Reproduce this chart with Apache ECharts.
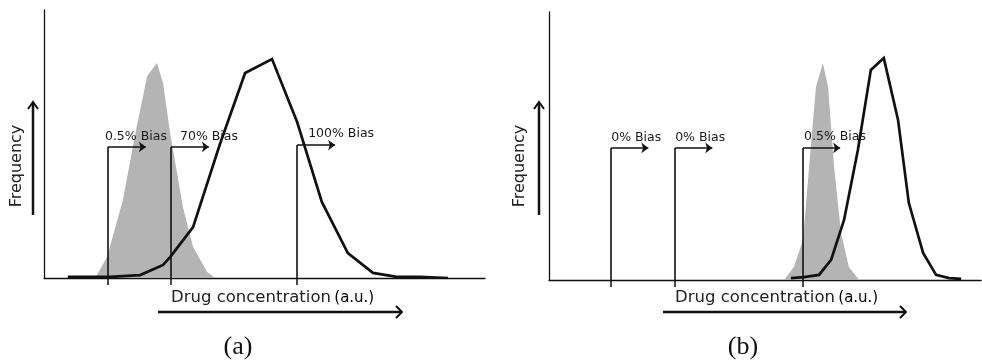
<!DOCTYPE html>
<html>
<head>
<meta charset="utf-8">
<script src="https://cdn.jsdelivr.net/npm/echarts@6/dist/echarts.min.js"></script>
<style>
  html, body { margin: 0; padding: 0; background: #fff; }
  #chart { width: 982px; height: 363px; }
</style>
</head>
<body>
<div id="chart"></div>
<script>
// ---- Panel (a): wide drug distribution vs. narrow reference distribution ----
const aDrugX = [5.4, 9.8, 15.0, 21.8, 27.0, 28.6, 33.8, 39.9, 45.6, 51.7, 57.4, 63.0, 68.9, 74.6, 80.0, 85.3, 91.6];
const aDrugY = [0.4, 0.4, 0.4, 1.1, 4.9, 7.8, 19.0, 50.0, 76.5, 81.7, 58.2, 28.4, 9.3, 1.9, 0.4, 0.4, 0.0];
const aRefX  = [11.6, 14.3, 17.9, 20.6, 23.4, 25.6, 27.0, 28.6, 31.5, 33.8, 37.0, 38.8];
const aRefY  = [0.0, 7.8, 29.1, 53.0, 75.4, 80.2, 72.8, 54.1, 26.5, 11.6, 2.2, 0.0];
const aBiasX      = [14.5, 28.8, 57.4];
const aBiasLevel  = [48.9, 48.9, 49.6];
const aBiasLabels = ['0.5% Bias', '70% Bias', '100% Bias'];

// ---- Panel (b): drug distribution shifted to high concentrations ----
const bDrugX = [56.0, 59.0, 62.5, 65.3, 68.3, 71.5, 74.5, 77.5, 80.8, 83.3, 86.6, 89.6, 92.6, 95.4];
const bDrugY = [0.7, 1.1, 1.9, 7.5, 22.4, 48.5, 78.4, 82.8, 59.7, 28.7, 10.1, 1.9, 0.7, 0.4];
const bRefX  = [54.4, 56.7, 58.8, 60.2, 61.8, 63.4, 64.6, 66.0, 67.6, 69.4, 71.8];
const bRefY  = [0.0, 4.9, 14.9, 42.2, 72.0, 81.0, 72.0, 42.2, 17.5, 4.9, 0.0];
const bBiasX      = [14.4, 29.2, 58.8];
const bBiasLevel  = [49.3, 49.3, 49.3];
const bBiasLabels = ['0% Bias', '0% Bias', '0.5% Bias'];

// length of each threshold arrow, in concentration units
const arrowLen = 8.6;

// ---- styling ----
const INK = '#111';
const GREY = '#b4b4b4';
const SANS = 'DejaVu Sans';
const labelShiftA = [[-3, 4], [9, 4], [11, 5]];
const labelShiftB = [[0, 4], [0, 4], [1, 5]];

const pairs = (xs, ys) => xs.map((x, i) => [x, ys[i]]);

function biasLines(xs, levels, labels, shifts) {
  const out = [];
  xs.forEach((x, i) => {
    // vertical threshold stem
    out.push([{ coord: [x, 0] }, { coord: [x, levels[i]] }]);
    // arrow pointing towards higher concentration, with its label
    out.push([
      { coord: [x, levels[i]], symbol: 'none',
        label: { show: true, formatter: labels[i], distance: shifts[i] } },
      { coord: [x + arrowLen, levels[i]], symbol: 'arrow' }
    ]);
  });
  return out;
}

function axesFor(idx, ticks) {
  return {
    x: {
      type: 'value', gridIndex: idx, min: 0, max: 100,
      axisLine: { show: true, onZero: false, lineStyle: { color: INK, width: 1.3 } },
      axisTick: { show: true, customValues: ticks, length: 7, inside: false,
                  lineStyle: { color: INK, width: 1.5 } },
      axisLabel: { show: false },
      splitLine: { show: false }
    },
    y: {
      type: 'value', gridIndex: idx, min: 0, max: 100,
      axisLine: { show: true, onZero: false, lineStyle: { color: INK, width: 1.3 } },
      axisTick: { show: false },
      axisLabel: { show: false },
      splitLine: { show: false }
    }
  };
}

function panelSeries(idx, refX, refY, drugX, drugY, biasX, levels, labels, shifts) {
  return [
    {
      type: 'line', xAxisIndex: idx, yAxisIndex: idx,
      data: pairs(refX, refY), symbol: 'none',
      lineStyle: { width: 0, color: GREY },
      areaStyle: { color: GREY, opacity: 1 },
      itemStyle: { color: GREY }
    },
    {
      type: 'line', xAxisIndex: idx, yAxisIndex: idx,
      data: pairs(drugX, drugY), symbol: 'none',
      lineStyle: { width: 2.7, color: INK, join: 'miter' },
      itemStyle: { color: INK }
    },
    {
      type: 'line', xAxisIndex: idx, yAxisIndex: idx, data: [],
      markLine: {
        silent: true, animation: false,
        symbol: ['none', 'none'], symbolSize: [8, 7],
        lineStyle: { color: INK, width: 1.6, type: 'solid' },
        label: { show: false, position: 'insideStartTop', color: '#1a1a1a',
                 fontSize: 12.5, fontFamily: SANS },
        emphasis: { disabled: true },
        data: biasLines(biasX, levels, labels, shifts)
      }
    }
  ];
}

const axA = axesFor(0, aBiasX);
const axB = axesFor(1, bBiasX);

function decorations(freqX, arrowX, drugLeft, drugArrow, caption, captionX) {
  return [
    { type: 'text', x: freqX, y: 166, rotation: Math.PI / 2,
      style: { text: 'Frequency', fill: '#222', font: '16px "DejaVu Sans"',
               align: 'center', verticalAlign: 'middle' } },
    { type: 'line', shape: { x1: arrowX, y1: 215, x2: arrowX, y2: 103 },
      style: { stroke: INK, lineWidth: 2.5 } },
    { type: 'polyline', shape: { points: [[arrowX - 5, 109], [arrowX, 102], [arrowX + 5, 109]] },
      style: { stroke: INK, lineWidth: 2, fill: null } },
    { type: 'text', x: drugLeft, y: 298,
      style: { text: '{n|Drug concentration} {u|(a.u.)}', verticalAlign: 'middle',
               rich: { n: { fontSize: 16.5, fontFamily: SANS, fill: '#222' },
                       u: { fontSize: 15, fontFamily: SANS, fill: '#000',
                            textStroke: '#000', textStrokeWidth: 0.4 } } } },
    { type: 'line', shape: { x1: drugArrow[0], y1: 312, x2: drugArrow[1] - 1, y2: 312 },
      style: { stroke: INK, lineWidth: 2.5 } },
    { type: 'polyline', shape: { points: [[drugArrow[1] - 6, 306], [drugArrow[1], 312], [drugArrow[1] - 6, 318]] },
      style: { stroke: INK, lineWidth: 2, fill: null } },
    { type: 'text', x: captionX, y: 347,
      style: { text: caption, font: '26px "Liberation Serif"', fill: '#111',
               align: 'center', verticalAlign: 'middle' } }
  ];
}

const option = {
  animation: false,
  backgroundColor: '#fff',
  grid: [
    { left: 44, top: 10, width: 441, height: 268 },
    { left: 549, top: 12, width: 432, height: 268 }
  ],
  xAxis: [axA.x, axB.x],
  yAxis: [axA.y, axB.y],
  series: [
    ...panelSeries(0, aRefX, aRefY, aDrugX, aDrugY, aBiasX, aBiasLevel, aBiasLabels, labelShiftA),
    ...panelSeries(1, bRefX, bRefY, bDrugX, bDrugY, bBiasX, bBiasLevel, bBiasLabels, labelShiftB)
  ],
  graphic: [
    ...decorations(17, 33, 171, [158, 402], '(a)', 238),
    ...decorations(520, 539, 675, [663, 906], '(b)', 743)
  ]
};

const chart = echarts.init(document.getElementById('chart'), null, { renderer: 'canvas' });
chart.setOption(option);
</script>
</body>
</html>
